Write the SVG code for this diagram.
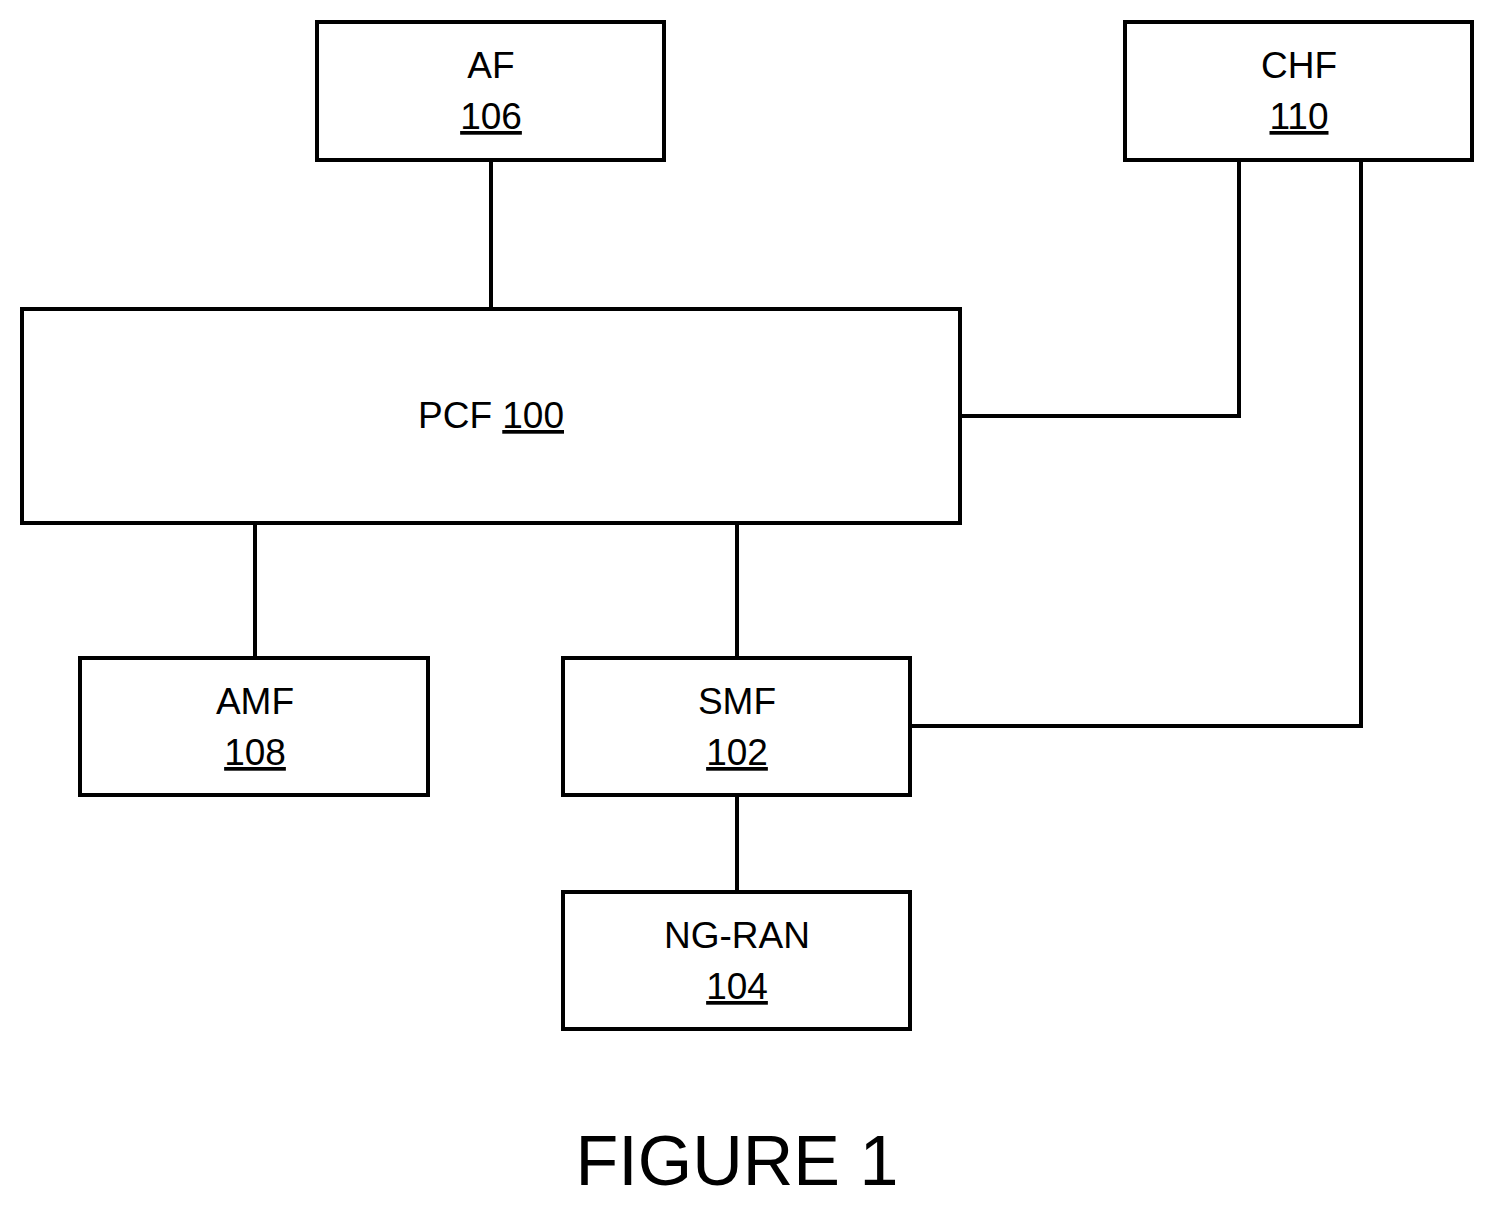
<svg xmlns="http://www.w3.org/2000/svg" width="1496" height="1208" viewBox="0 0 1496 1208">
<style>
.b{fill:#fff;stroke:#000;stroke-width:4}
.t{font-family:"Liberation Sans",Arial,sans-serif;font-size:37px;text-anchor:middle;fill:#000}
.u{text-decoration:underline}
.c{fill:none;stroke:#000;stroke-width:4}
</style>
<rect width="1496" height="1208" fill="#fff"/>
<g id="connectors">
<path class="c" d="M491 160V309M255 523V658M737 523V658M737 795V892M960 416H1239V160M910 726H1361V160"/>
</g>
<g id="af"><rect class="b" x="317" y="22" width="347" height="138"/><text class="t" x="491" y="78">AF</text><text class="t u" x="491" y="129">106</text></g>
<g id="chf"><rect class="b" x="1125" y="22" width="347" height="138"/><text class="t" x="1299" y="78">CHF</text><text class="t u" x="1299" y="129">110</text></g>
<g id="pcf"><rect class="b" x="22" y="309" width="938" height="214"/><text class="t" x="491" y="428">PCF <tspan class="u">100</tspan></text></g>
<g id="amf"><rect class="b" x="80" y="658" width="348" height="137"/><text class="t" x="255" y="714">AMF</text><text class="t u" x="255" y="765">108</text></g>
<g id="smf"><rect class="b" x="563" y="658" width="347" height="137"/><text class="t" x="737" y="714">SMF</text><text class="t u" x="737" y="765">102</text></g>
<g id="ngran"><rect class="b" x="563" y="892" width="347" height="137"/><text class="t" x="737" y="948">NG-RAN</text><text class="t u" x="737" y="999">104</text></g>
<text class="t" x="737" y="1185" style="font-size:70px">FIGURE 1</text>
</svg>
